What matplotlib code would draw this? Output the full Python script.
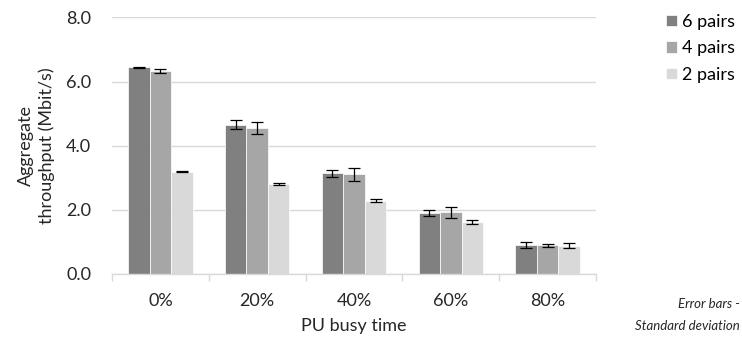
import matplotlib.pyplot as plt
import numpy as np

plt.rcParams['font.family'] = ['Lato', 'DejaVu Sans']

# data
categories = ['0%', '20%', '40%', '60%', '80%']
series_names = ['6 pairs', '4 pairs', '2 pairs']
pairs6 = [6.44, 4.66, 3.14, 1.90, 0.91]
pairs4 = [6.33, 4.56, 3.11, 1.92, 0.90]
pairs2 = [3.19, 2.81, 2.29, 1.61, 0.88]
err6 = [0.02, 0.15, 0.11, 0.08, 0.09]
err4 = [0.05, 0.18, 0.20, 0.18, 0.05]
err2 = [0.01, 0.02, 0.05, 0.06, 0.08]
colors = ['#808080', '#a6a6a6', '#d9d9d9']

fig = plt.figure(figsize=(7.42, 3.43), dpi=100)
ax = fig.add_axes([112 / 742, 1 - 274 / 343, (596 - 112) / 742, (274 - 17.4) / 343])

x = np.arange(len(categories))
width = 1 / 4.5
values = [pairs6, pairs4, pairs2]
errors = [err6, err4, err2]
for i, (vals, errs) in enumerate(zip(values, errors)):
    pos = x + (i - 1) * width
    ax.bar(pos, vals, width, color=colors[i], edgecolor='white', linewidth=0.5,
           label=series_names[i], zorder=2)
    ax.errorbar(pos, vals, yerr=errs, fmt='none', ecolor='black', elinewidth=0.9,
                capsize=4.3, capthick=0.9, zorder=3)

fs = 13
ax.set_xlim(-0.5, len(categories) - 0.5)
ax.set_ylim(0, 8)
ax.set_yticks([0, 2, 4, 6, 8])
ax.set_yticklabels(['%.1f' % v for v in [0, 2, 4, 6, 8]], fontsize=fs, color='#262626')
ax.set_xticks(x)
ax.set_xticklabels(categories, fontsize=fs, color='#262626')
ax.set_xticks(np.arange(len(categories) + 1) - 0.5, minor=True)
ax.tick_params(axis='x', which='major', length=0, pad=14)
ax.tick_params(axis='x', which='minor', length=5, color='#d9d9d9', width=1)
ax.tick_params(axis='y', length=0, pad=15)

ax.yaxis.grid(True, color='#d9d9d9', linewidth=1)
ax.set_axisbelow(True)
for side in ['top', 'right', 'left']:
    ax.spines[side].set_visible(False)
ax.spines['bottom'].set_color('#d9d9d9')
ax.spines['bottom'].set_linewidth(1)

ax.set_ylabel('Aggregate\nthroughput (Mbit/s)', fontsize=fs, color='#262626',
              linespacing=1.3, labelpad=8)
ax.set_xlabel('PU busy time', fontsize=fs, color='#262626', labelpad=6)

ax.legend(loc='upper left', bbox_to_anchor=(666 / 742, 1 - 14 / 343),
          bbox_transform=fig.transFigure, frameon=False, fontsize=fs,
          handlelength=0.6, handleheight=0.6, handletextpad=0.3, labelspacing=0.58,
          borderaxespad=0, borderpad=0)

fig.text(740 / 742, 1 - 315 / 343, 'Error bars -\nStandard deviation', ha='right',
         va='center', fontsize=9.5, style='italic', color='#262626', linespacing=2.0)

fig.savefig('out.png', dpi=100)
